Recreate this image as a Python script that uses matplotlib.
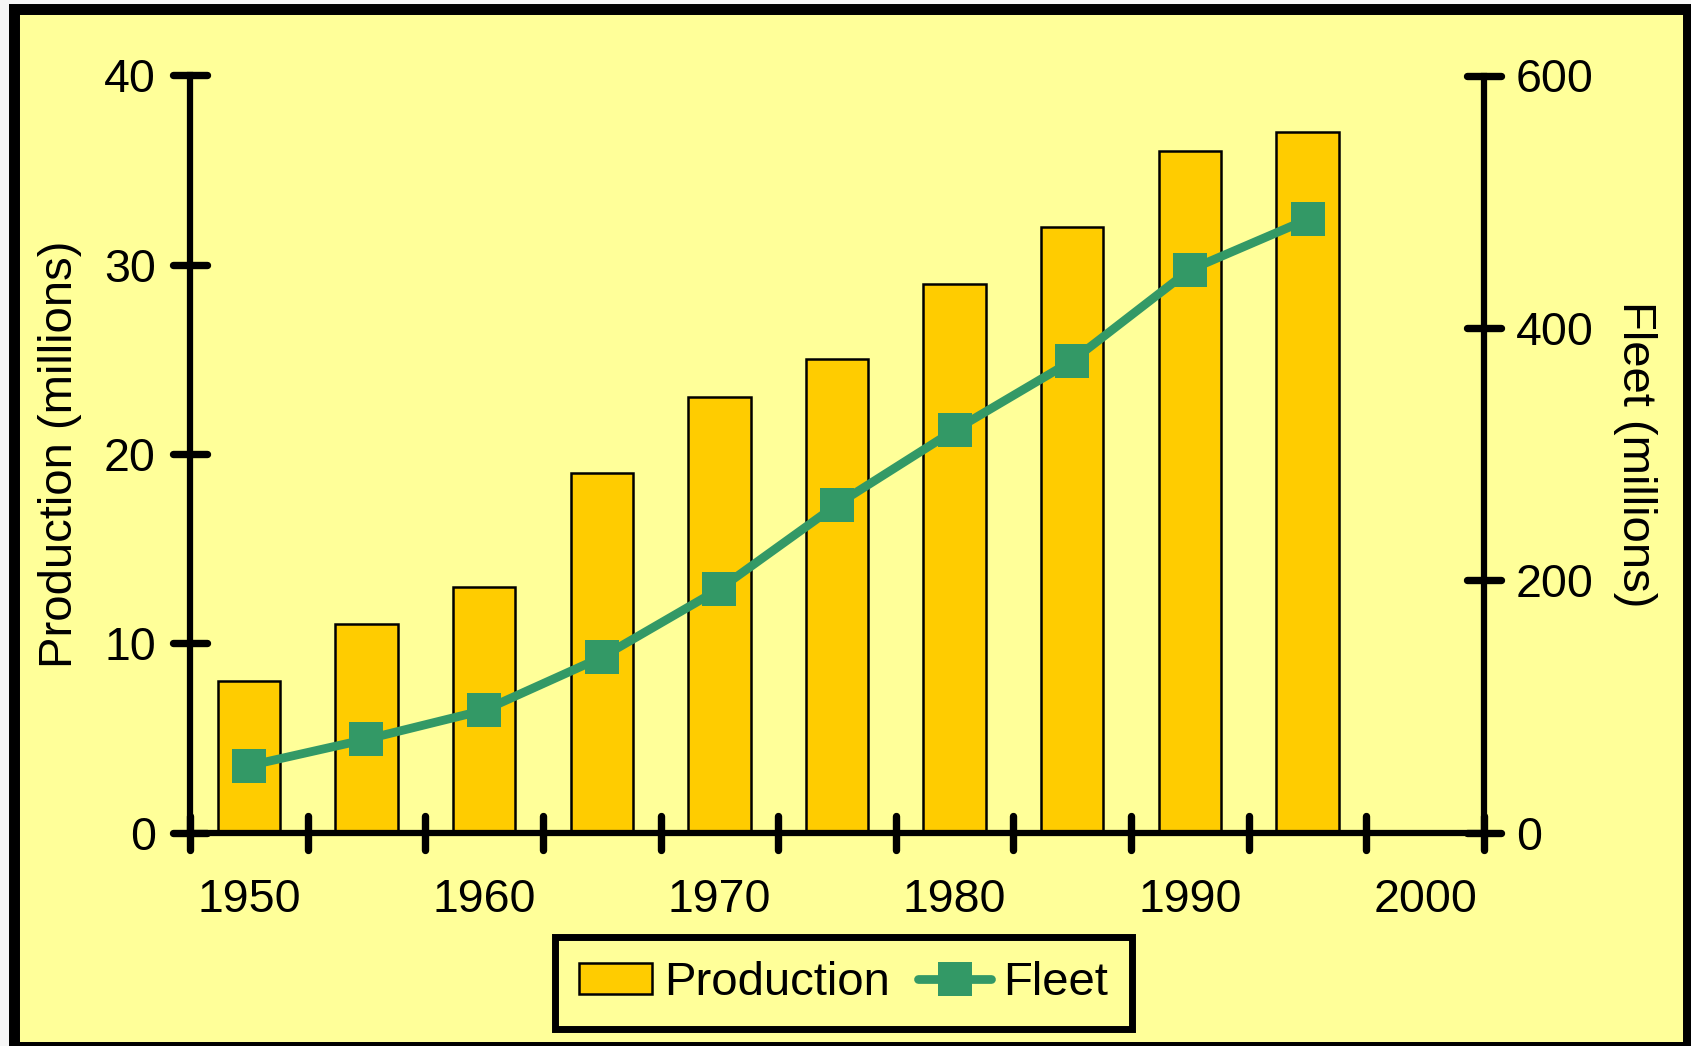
import numpy as np
import matplotlib
matplotlib.use("Agg")
import matplotlib.pyplot as plt
from matplotlib.patches import Rectangle
from matplotlib.markers import MarkerStyle

plt.rcParams['font.family'] = ['Liberation Sans', 'DejaVu Sans']

# Data (millions)
years = [1950, 1955, 1960, 1965, 1970, 1975, 1980, 1985, 1990, 1995]
production = [8, 11, 13, 19, 23, 25, 29, 32, 36, 37]
fleet = [53, 74, 97, 139, 193, 260, 319, 374, 446, 486]
year_labels = [1950, 1960, 1970, 1980, 1990, 2000]
prod_ticks = [0, 10, 20, 30, 40]
fleet_ticks = [0, 200, 400, 600]

BG = '#FFFF99'
BAR = '#FFCC00'
GREEN = '#339966'

W, H = 1691, 1046
fig = plt.figure(figsize=(W / 100, H / 100), dpi=100, facecolor='#F6F6F6')

# framed yellow panel
frame = Rectangle((13.5 / W, 1 - 1047 / H), (1687.5 - 13.5) / W, (1047 - 8.5) / H,
                  transform=fig.transFigure, facecolor=BG, edgecolor='black',
                  linewidth=7.9, zorder=-1)
fig.patches.append(frame)

left, right, top, bottom = 190, 1484, 75.5, 832.6
ax = fig.add_axes([left / W, 1 - bottom / H, (right - left) / W, (bottom - top) / H])
ax.set_facecolor('none')

# categorical positions, one slot per 5 years
def pos(y):
    return (np.asarray(y) - 1950) / 5.0

ax.bar(pos(years), production, width=0.53, color=BAR, edgecolor='black',
       linewidth=1.8, label='Production', zorder=2)
ax.set_xlim(-0.5, 10.5)
ax.set_ylim(0, 40)

ax2 = ax.twinx()
ax2.plot(pos(years), fleet, color=GREEN, linewidth=6.3, marker='s',
         markersize=24, markeredgewidth=0, label='Fleet', solid_capstyle='round')
ax2.set_ylim(0, 600)

# spines
for sp in ('top', 'right'):
    ax.spines[sp].set_visible(False)
for sp in ('top', 'left', 'bottom'):
    ax2.spines[sp].set_visible(False)
ax.spines['left'].set_linewidth(4.5)
ax.spines['bottom'].set_linewidth(4.5)
ax2.spines['right'].set_linewidth(4.5)

# x axis: tick marks on slot boundaries, labels every 10 years
ax.set_xticks(np.arange(-0.5, 11.0, 1.0), minor=True)
ax.set_xticks(pos(year_labels))
ax.set_xticklabels([str(y) for y in year_labels])
ax.tick_params(axis='x', which='major', length=0, pad=32.5, labelsize=33.5)
ax.tick_params(axis='x', which='minor', direction='inout', length=25, width=5.3,
               color='black')

ax.set_yticks(prod_ticks)
ax.tick_params(axis='y', direction='inout', length=25, width=5.3, pad=12,
               labelsize=33.5)
ax2.set_yticks(fleet_ticks)
ax2.tick_params(axis='y', direction='inout', length=25, width=5.3, pad=10.5,
                labelsize=33.5)

ax.set_ylabel('Production (millions)', fontsize=34)
ax.yaxis.set_label_coords(-0.0835, 0.5)
ax2.set_ylabel('Fleet (millions)', fontsize=34, rotation=270, va='bottom')
ax2.yaxis.set_label_coords(1.0997, 0.5)

# legend below the plot
h1, l1 = ax.get_legend_handles_labels()
h2, l2 = ax2.get_legend_handles_labels()
leg = fig.legend(h1 + h2, l1 + l2, loc='center',
                 bbox_to_anchor=(843.5 / W, 1 - 983 / H), ncol=2,
                 frameon=True, fancybox=False, shadow=False,
                 facecolor=BG, edgecolor='black', framealpha=1, fontsize=34,
                 handlelength=1.55, handleheight=0.62, handletextpad=0.25,
                 columnspacing=0.6, borderpad=0.5)
leg.get_frame().set_linewidth(5)

# rounded tick ends
fig.canvas.draw()
for a in (ax, ax2):
    for axis in (a.xaxis, a.yaxis):
        for t in axis.get_major_ticks() + axis.get_minor_ticks():
            for ln in (t.tick1line, t.tick2line):
                ln.set_marker(MarkerStyle(ln.get_marker(), capstyle='round'))

fig.savefig('out.png', dpi=100, facecolor=fig.get_facecolor())
